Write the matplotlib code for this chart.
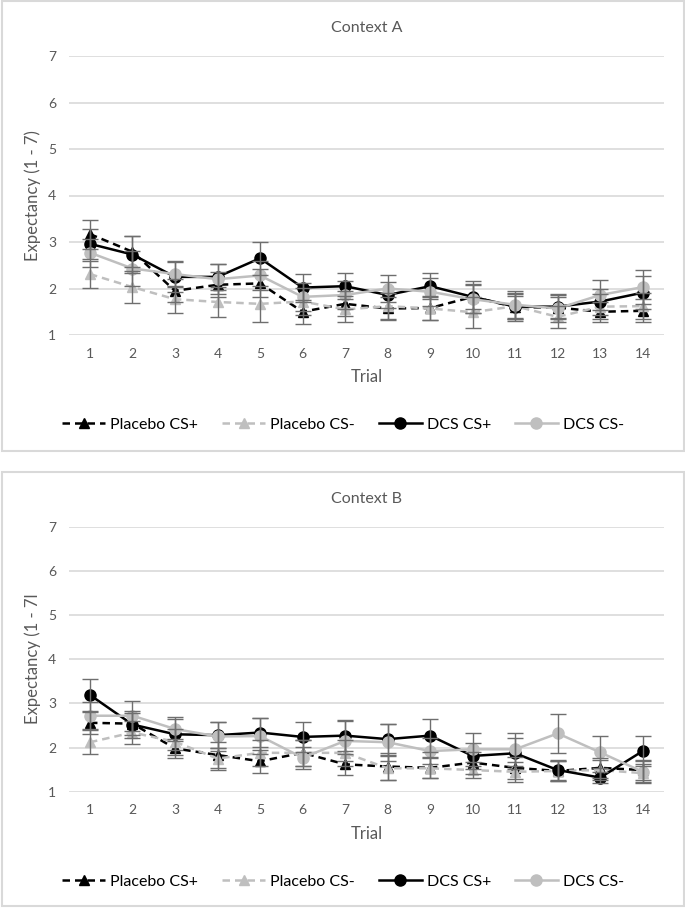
import numpy as np
import matplotlib
matplotlib.use('Agg')
import matplotlib.pyplot as plt
from matplotlib.patches import Rectangle

plt.rcParams['font.family'] = ['Lato', 'DejaVu Sans']

trials = list(range(1, 15))
series_names = ['Placebo CS+', 'Placebo CS-', 'DCS CS+', 'DCS CS-']

# Context A means / error bars
a_placebo_plus = [3.17, 2.79, 1.95, 2.08, 2.11, 1.50, 1.67, 1.57, 1.58, 1.82, 1.60, 1.59, 1.50, 1.52]
a_placebo_minus = [2.31, 2.03, 1.77, 1.71, 1.67, 1.72, 1.55, 1.62, 1.57, 1.49, 1.62, 1.39, 1.61, 1.62]
a_dcs_plus = [2.96, 2.73, 2.25, 2.25, 2.65, 2.02, 2.05, 1.86, 2.05, 1.82, 1.61, 1.61, 1.72, 1.91]
a_dcs_minus = [2.77, 2.43, 2.31, 2.20, 2.28, 1.82, 1.86, 2.00, 1.93, 1.77, 1.65, 1.57, 1.86, 2.03]
a_err_placebo_plus = [0.31, 0.33, 0.25, 0.27, 0.30, 0.26, 0.27, 0.25, 0.25, 0.27, 0.24, 0.22, 0.22, 0.25]
a_err_placebo_minus = [0.29, 0.35, 0.29, 0.32, 0.38, 0.30, 0.28, 0.28, 0.25, 0.33, 0.27, 0.23, 0.27, 0.28]
a_err_dcs_plus = [0.33, 0.40, 0.33, 0.28, 0.35, 0.30, 0.28, 0.28, 0.28, 0.35, 0.30, 0.27, 0.28, 0.35]
a_err_dcs_minus = [0.30, 0.38, 0.28, 0.32, 0.32, 0.30, 0.30, 0.30, 0.30, 0.30, 0.30, 0.28, 0.33, 0.36]

# Context B
b_placebo_plus = [2.56, 2.54, 1.98, 1.83, 1.69, 1.88, 1.62, 1.57, 1.54, 1.66, 1.54, 1.47, 1.54, 1.49]
b_placebo_minus = [2.12, 2.34, 2.13, 1.75, 1.88, 1.88, 1.88, 1.53, 1.53, 1.49, 1.45, 1.47, 1.49, 1.42]
b_dcs_plus = [3.19, 2.52, 2.30, 2.28, 2.34, 2.24, 2.27, 2.19, 2.27, 1.81, 1.87, 1.49, 1.32, 1.92]
b_dcs_minus = [2.72, 2.72, 2.42, 2.25, 2.26, 1.77, 2.15, 2.12, 1.92, 1.96, 1.96, 2.32, 1.89, 1.45]
b_err_placebo_plus = [0.25, 0.25, 0.22, 0.30, 0.26, 0.30, 0.24, 0.30, 0.24, 0.25, 0.25, 0.22, 0.22, 0.22]
b_err_placebo_minus = [0.27, 0.27, 0.30, 0.25, 0.30, 0.30, 0.30, 0.27, 0.23, 0.19, 0.22, 0.22, 0.23, 0.20]
b_err_dcs_plus = [0.36, 0.30, 0.35, 0.30, 0.32, 0.33, 0.35, 0.35, 0.38, 0.30, 0.35, 0.22, 0.12, 0.33]
b_err_dcs_minus = [0.30, 0.34, 0.28, 0.32, 0.40, 0.25, 0.45, 0.42, 0.30, 0.38, 0.38, 0.45, 0.36, 0.25]

W, H = 685, 909
fig = plt.figure(figsize=(W / 100, H / 100), dpi=100)

text_col = '#595959'
grid_col = '#d9d9d9'
light = '#bfbfbf'
err_col = '#6e6e6e'

styles = [
    dict(color='black', ls=(0, (3, 2)), marker='^', ms=7),
    dict(color=light, ls=(0, (3, 2)), marker='^', ms=7),
    dict(color='black', ls='-', marker='o', ms=8),
    dict(color=light, ls='-', marker='o', ms=8),
]


def px_axes(x0, y_top, x1, y_bot):
    return fig.add_axes([x0 / W, 1 - y_bot / H, (x1 - x0) / W, (y_bot - y_top) / H])


def draw_panel(ax, title, ylabel, means, errs):
    for m, e, st, name in zip(means, errs, styles, series_names):
        ax.plot(trials, m, color=st['color'], ls=st['ls'], lw=1.8,
                marker=st['marker'], ms=st['ms'], label=name, zorder=3)
    for m, e in zip(means, errs):
        ax.errorbar(trials, m, yerr=e, fmt='none', ecolor=err_col,
                    elinewidth=1.0, capsize=5.5, capthick=1.0, zorder=4)
    ax.set_xlim(0.5, 14.5)
    ax.set_ylim(1, 7)
    ax.set_yticks(range(1, 8))
    ax.set_xticks(trials)
    ax.grid(axis='y', color=grid_col, lw=1.2)
    ax.set_axisbelow(True)
    for s in ax.spines.values():
        s.set_visible(False)
    ax.tick_params(length=0, colors=text_col, labelsize=10)
    ax.tick_params(axis='x', pad=9)
    ax.tick_params(axis='y', pad=9)
    ax.set_xlabel('Trial', color=text_col, fontsize=12, labelpad=7)
    ax.set_ylabel(ylabel, color=text_col, fontsize=12)
    ax.yaxis.set_label_coords(-41 / 595.3 * 0.68, 0.5)
    ax.set_title(title, color=text_col, fontsize=11.5, pad=17)


# panel frames
for y0, y1 in [(1, 451), (472, 906)]:
    fig.patches.append(Rectangle((2 / W, 1 - y1 / H), 682 / W, (y1 - y0) / H,
                                 transform=fig.transFigure, fill=False,
                                 ec=grid_col, lw=1.5))

ax1 = px_axes(68.7, 56, 664, 335)
draw_panel(ax1, 'Context A', 'Expectancy (1 - 7)',
           [a_placebo_plus, a_placebo_minus, a_dcs_plus, a_dcs_minus],
           [a_err_placebo_plus, a_err_placebo_minus, a_err_dcs_plus, a_err_dcs_minus])

ax2 = px_axes(68.7, 526.7, 664, 791.7)
draw_panel(ax2, 'Context B', 'Expectancy (1 - 7l',
           [b_placebo_plus, b_placebo_minus, b_dcs_plus, b_dcs_minus],
           [b_err_placebo_plus, b_err_placebo_minus, b_err_dcs_plus, b_err_dcs_minus])

for ax, ly in [(ax1, 425), (ax2, 882)]:
    h, l = ax.get_legend_handles_labels()
    fig.legend(h, l, loc='center', bbox_to_anchor=(343 / W, 1 - ly / H), ncol=4,
               frameon=False, fontsize=11.5, handlelength=2.7, handletextpad=0.3,
               columnspacing=1.5, labelcolor='black')

fig.savefig('out.png', dpi=100)
